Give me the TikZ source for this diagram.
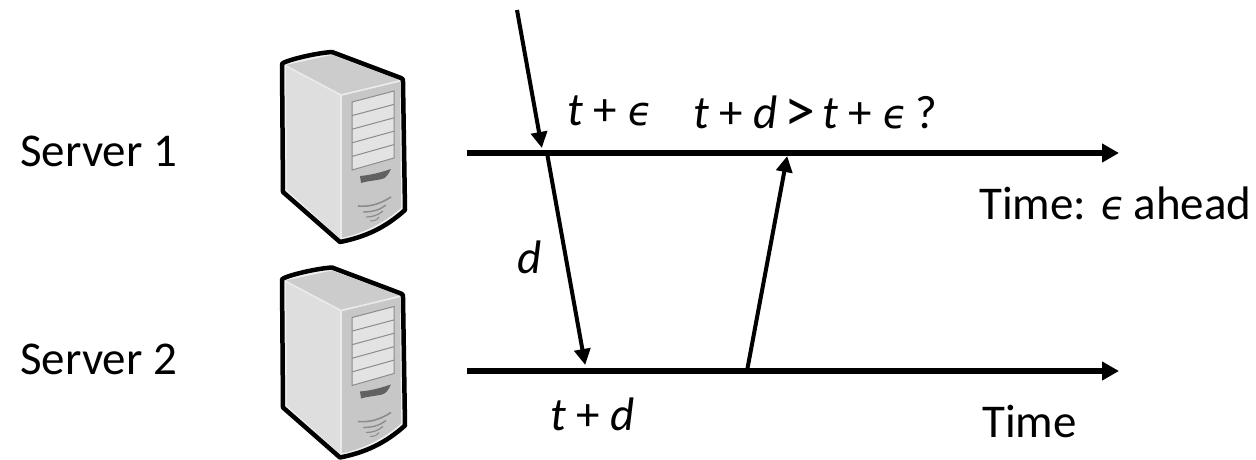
\documentclass[tikz,border=0pt]{standalone}
\usepackage{fontspec}
\setmainfont{Carlito}
\newfontfamily\epsfont{DejaVu Sans}[FakeSlant=0.15]
\usetikzlibrary{arrows.meta}
\newcommand{\eps}{{\kern-1pt\epsfont\fontsize{40}{44}\selectfont ϵ\kern-1pt}}
\newcommand{\bigtr}{\makebox[23pt]{\raisebox{-3pt}{\fontsize{62}{62}\selectfont >}}}
\tikzset{
 lbl/.style={anchor=base west,inner sep=0pt,font=\fontsize{47}{50}\selectfont},
 timeline/.style={line width=6pt,-{Triangle[length=17pt,width=18pt]}},
 msg/.style={line width=4pt,-{Triangle[length=16pt,width=16pt]},shorten >=-1pt},
 pics/tower/.style={code={
  \fill[black!6] (22,22) -- (72,11) -- (143,38) -- (145,170) .. controls (125,188) and (105,197) .. (80,202) -- (23,152) -- cycle;
  \fill[black!20] (26,25) -- (72,15) -- (139,40) -- (81,55) -- cycle;
  \fill[black!13] (26,26) -- (81,56) -- (80,198) -- (27,150) -- cycle;
  \fill[black!22] (81,56) -- (140,41) -- (141,168) .. controls (125,182) and (105,193) .. (81,198) -- cycle;
  \fill[black!11] (92,62) -- (134,51) -- (134,118) -- (92,130) -- cycle;
  \draw[black!45,line width=1pt] (92,62) -- (134,51) -- (134,118) -- (92,130) -- cycle;
  \foreach \u in {1,...,4}
   \draw[black!45,line width=1pt] (92,62+\u*13.6) -- (134,51+\u*13.4);
  \draw[black!8,line width=1.5pt] (26,26) -- (81,55) -- (140,41);
  \draw[black!8,line width=1.5pt] (81,55) -- (81,198);
  \fill[black!62] (100,136) .. controls (112,135) and (122,132) .. (131,129) .. controls (128,135) and (126,138) .. (122,139) .. controls (113,141) and (107,141) .. (101,143) -- cycle;
  \draw[black!45,line width=1.6pt] (98,166) .. controls (110,167) and (120,164) .. (131,157);
  \draw[black!45,line width=1.4pt] (103,172) .. controls (112,172) and (120,170) .. (126,165);
  \draw[black!45,line width=1.2pt] (106,177) .. controls (113,177) and (118,175) .. (123,171);
  \draw[black!45,line width=1pt] (110,181) .. controls (114,181) and (117,180) .. (119,177);
  \draw[line width=4.5pt,line join=round] (22,24) .. controls (23,21) and (55,13) .. (72,12) -- (141,38) .. controls (143,39) and (143,39) .. (143,42) -- (145,170) .. controls (125,188) and (105,197) .. (80,202) -- (23,152) -- cycle;
 }}
}
\begin{document}
\begin{tikzpicture}[x=1pt,y=-1pt]
\useasboundingbox (0,0) rectangle (1256,459);
\pic (srvA) at (260,40) {tower};
\pic (srvB) at (260,255.5) {tower};
\node[lbl] (s1) at (20,166) {Server 1};
\node[lbl] (s2) at (20,374.5) {Server 2};
\coordinate (a1) at (467,153);
\coordinate (a2) at (1119,153);
\coordinate (b1) at (467,371);
\coordinate (b2) at (1119,371);
\draw[timeline] (a1) -- (a2);
\draw[timeline] (b1) -- (b2);
\coordinate (in) at (517,10);
\coordinate (r1) at (541.7,147);
\coordinate (s1out) at (547,153);
\coordinate (r2) at (585,364);
\coordinate (s2out) at (747,371);
\coordinate (r3) at (787,157);
\draw[msg] (in) -- (r1);
\draw[msg] (s1out) -- (r2);
\draw[msg] (s2out) -- (r3);
\node[lbl] (te) at (567,125) {\textit{t} + \eps};
\node[lbl] (cmp) at (693,128) {\textit{t} + \textit{d} \bigtr{} \textit{t} + \eps\ ?};
\node[lbl] (ah) at (979,219) {Time: \eps\ ahead};
\node[lbl] (dl) at (517,273) {\textit{d}};
\node[lbl] (td) at (550,430) {\textit{t} + \textit{d}};
\node[lbl] (tm) at (982,437) {Time};
\end{tikzpicture}
\end{document}
